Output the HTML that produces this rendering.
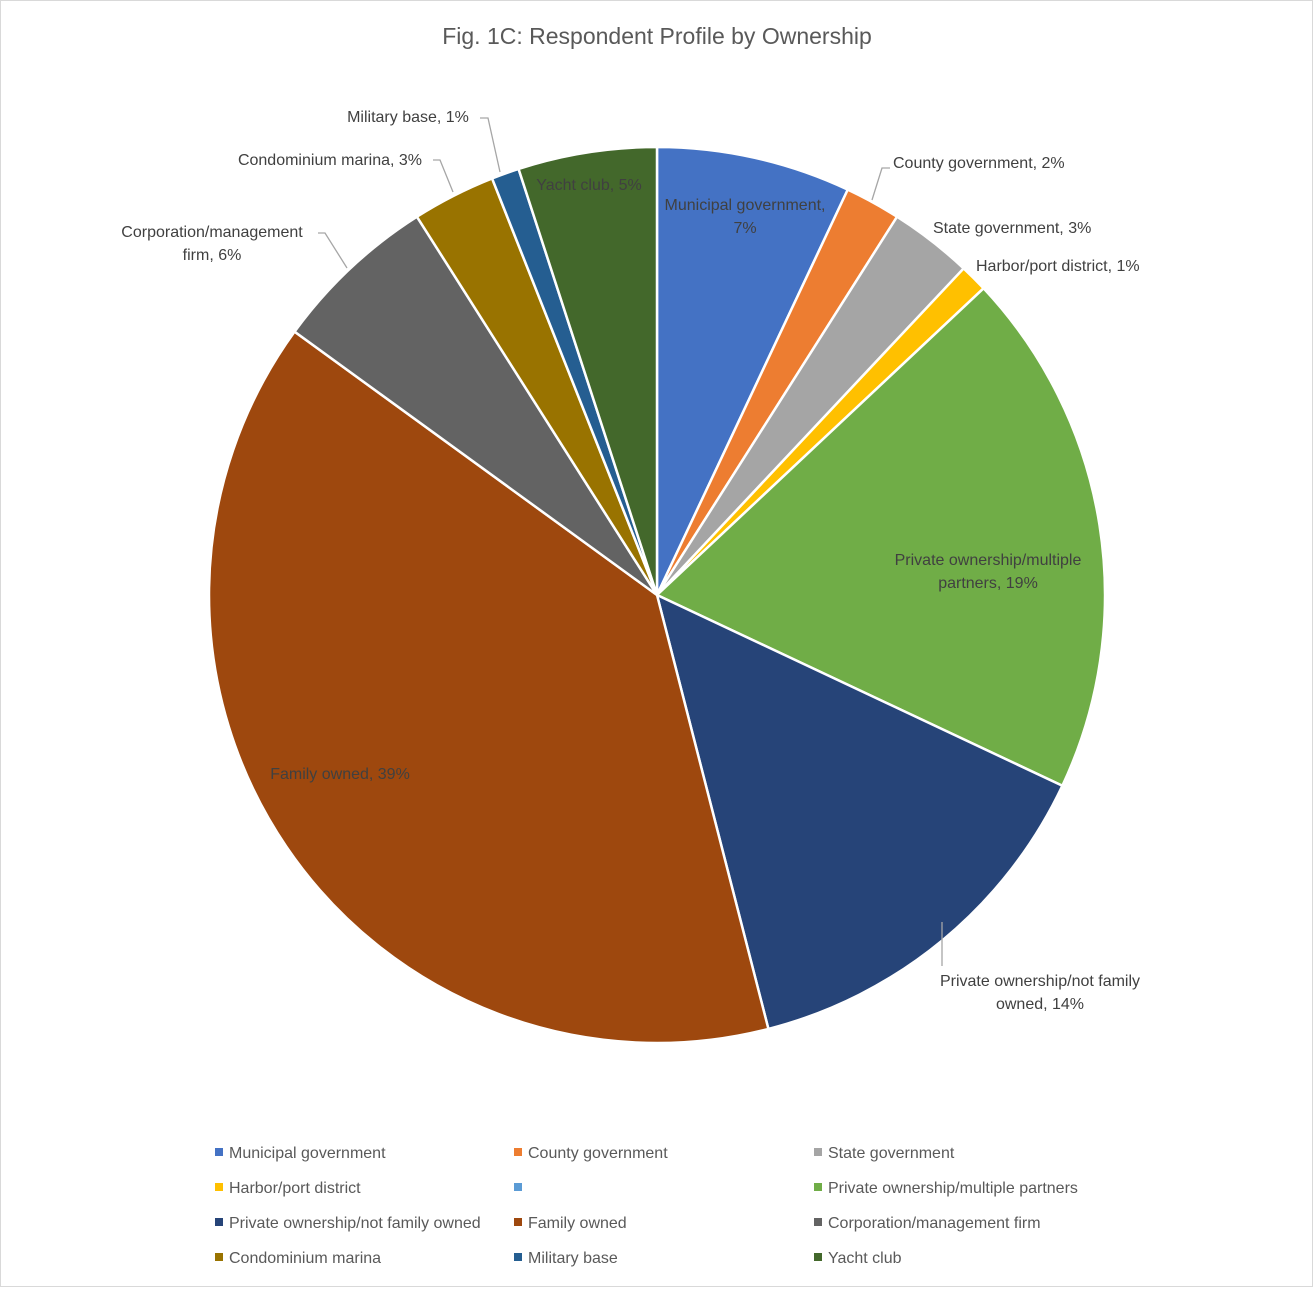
<!DOCTYPE html>
<html><head><meta charset="utf-8"><style>
body{margin:0;background:#fff;}
#wrap{position:relative;width:1313px;height:1287px;}
svg text{font-family:"Liberation Sans",sans-serif;}
</style></head><body>
<div id="wrap">
<svg id="chart" width="1313" height="1287">
<rect x="0.5" y="0.5" width="1312" height="1286" fill="#fff" stroke="#d9d9d9"/>
<text x="657" y="44" text-anchor="middle" font-size="23" fill="#595959">Fig. 1C: Respondent Profile by Ownership</text>
<g id="slices"></g><g id="lines"></g><g id="labels"></g><g id="legend"></g>
</svg>
</div>
<script>
const categories=["Municipal government","County government","State government","Harbor/port district","","Private ownership/multiple partners","Private ownership/not family owned","Family owned","Corporation/management firm","Condominium marina","Military base","Yacht club"];
const values=[7,2,3,1,0,19,14,39,6,3,1,5];
const colors=["#4472C4","#ED7D31","#A5A5A5","#FFC000","#5B9BD5","#70AD47","#264478","#9E480E","#636363","#997300","#255E91","#43682B"];
// label layout: [lines of text, x, y, anchor, leader path]
const labelLayout=[
 [["Municipal government,","7%"],745,210,"middle",null],
 [["County government, 2%"],893,168,"start","M872,200 L882,168 L890,168"],
 [["State government, 3%"],933,233,"start",null],
 [["Harbor/port district, 1%"],976,271,"start",null],
 null,
 [["Private ownership/multiple","partners, 19%"],988,565,"middle",null],
 [["Private ownership/not family","owned, 14%"],1040,986,"middle","M942,922 L942,966"],
 [["Family owned, 39%"],340,779,"middle",null],
 [["Corporation/management","firm, 6%"],212,237,"middle","M347,268 L325,233 L318,233"],
 [["Condominium marina, 3%"],330,165,"middle","M453,192 L440,160 L433,160"],
 [["Military base, 1%"],408,122,"middle","M500,172 L488,118 L480,118"],
 [["Yacht club, 5%"],589,190,"middle",null]
];
const cx=657,cy=595,R=448;
const NS="http://www.w3.org/2000/svg";
const total=values.reduce((a,b)=>a+b,0);
function pt(frac){const a=frac*2*Math.PI;return [cx+R*Math.sin(a),cy-R*Math.cos(a)];}
let acc=0;
const gS=document.getElementById('slices'),gL=document.getElementById('labels'),gLn=document.getElementById('lines'),gLeg=document.getElementById('legend');
values.forEach((v,i)=>{
 const s=acc/total;acc+=v;const e=acc/total;
 if(v>0){
  const [x1,y1]=pt(s),[x2,y2]=pt(e);const large=(e-s)>0.5?1:0;
  const p=document.createElementNS(NS,'path');
  p.setAttribute('d',`M${cx},${cy} L${x1},${y1} A${R},${R} 0 ${large} 1 ${x2},${y2} Z`);
  p.setAttribute('fill',colors[i]);p.setAttribute('stroke','#fff');p.setAttribute('stroke-width','2.5');
  
  
  gS.appendChild(p);
 }
 const L=labelLayout[i];
 if(L){
  L[0].forEach((ln,k)=>{
   const t=document.createElementNS(NS,'text');
   t.setAttribute('x',L[1]);t.setAttribute('y',L[2]+k*23);t.setAttribute('text-anchor',L[3]);
   t.setAttribute('font-size','16');t.setAttribute('fill','#404040');
   
   
   t.textContent=ln;gL.appendChild(t);
  });
  if(L[4]){const p=document.createElementNS(NS,'path');p.setAttribute('d',L[4]);p.setAttribute('fill','none');p.setAttribute('stroke','#a6a6a6');p.setAttribute('stroke-width','1.3');
   
   
   gLn.appendChild(p);}
 }
 const col=i%3,row=Math.floor(i/3);
 const lx=[215,514,814][col],ly=1153+row*35;
 const r=document.createElementNS(NS,'rect');
 r.setAttribute('x',lx);r.setAttribute('y',ly-5);r.setAttribute('width',8);r.setAttribute('height',8);r.setAttribute('fill',colors[i]);
 
 
 gLeg.appendChild(r);
 const t=document.createElementNS(NS,'text');
 t.setAttribute('x',lx+14);t.setAttribute('y',ly+5);t.setAttribute('font-size','16');t.setAttribute('fill','#595959');
 
 
 t.textContent=categories[i];gLeg.appendChild(t);
});
</script>
</body></html>
